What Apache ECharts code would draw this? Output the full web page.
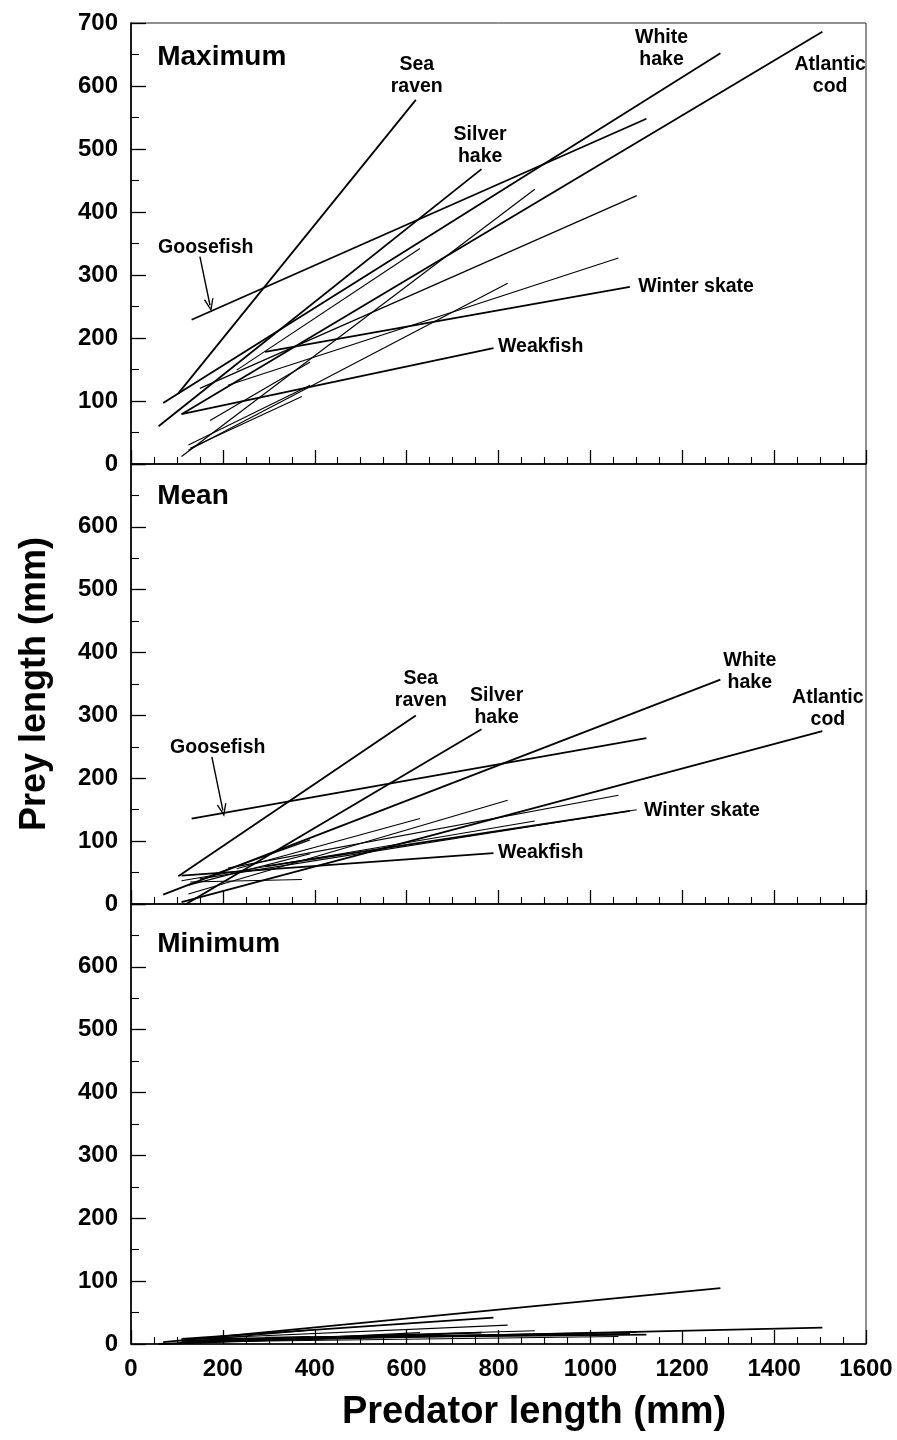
<!DOCTYPE html>
<html>
<head>
<meta charset="utf-8">
<script src="https://cdn.jsdelivr.net/npm/echarts@6/dist/echarts.min.js"></script>
<style>
  html, body { margin: 0; padding: 0; background: #fff; }
  #chart { width: 897px; height: 1440px; }
</style>
</head>
<body>
<div id="chart"></div>
<script>
// ---------------- DATA ----------------
const panelNames = ['Maximum', 'Mean', 'Minimum'];
const species = ['Sea raven', 'Goosefish', 'Silver hake', 'White hake', 'Atlantic cod', 'Weakfish', 'Winter skate',
                 'Species 8', 'Species 9', 'Species 10', 'Species 11', 'Species 12', 'Species 13', 'Species 14', 'Species 15'];
const labelled = [true, true, true, true, true, true, true, false, false, false, false, false, false, false, false];
// predator length range of each regression line (mm)
const predStart = [103, 132, 60, 70, 110, 110, 292, 110, 150, 211, 125, 129, 172, 125, 230];
const predEnd   = [620, 1122, 763, 1283, 1505, 789, 1086, 879, 1101, 1061, 820, 372, 390, 390, 629];
// prey length at the ends of each line (mm)
const maxStart  = [112, 229, 60, 97, 79, 79, 178, 12, 120, 125, 22, 25, 69, 30, 149];
const maxEnd    = [578, 548, 468, 652, 686, 184, 281, 436, 426, 327, 287, 107, 162, 125, 342];
const meanStart = [44, 136, -26, 15, 3, 45, 60, 37, 40, 57, 16, 35, 45, 30, 56];
const meanEnd   = [300, 264, 278, 357, 275, 81, 148, 132, 150, 173, 165, 39, 102, 80, 136];
const minStart  = [2, 8, 0, 3, 3, 8, 10, 5, 6, 4, 8, 3, 8, 5, 4];
const minEnd    = [15, 15, 18, 89, 26, 42, 16, 21, 19, 12, 30, 8, 22, 12, 18];
// axis ticks
const xTicks = [0, 200, 400, 600, 800, 1000, 1200, 1400, 1600];
const yTicks = [0, 100, 200, 300, 400, 500, 600, 700];

// annotation anchors (data coordinates) per panel: [text, x, y, align, fontSize]
const maxLabels = [
  ['Maximum', 57, 646, 'left', 28],
  ['Sea\nraven', 622, 616, 'center', 19.5],
  ['Silver\nhake', 760, 506, 'center', 19.5],
  ['White\nhake', 1155, 660, 'center', 19.5],
  ['Atlantic\ncod', 1522, 617, 'center', 19.5],
  ['Goosefish', 59, 344, 'left', 19.5],
  ['Winter skate', 1104, 281, 'left', 19.5],
  ['Weakfish', 799, 186, 'left', 19.5]
];
const meanLabels = [
  ['Mean', 57, 649, 'left', 28],
  ['Sea\nraven', 631, 341, 'center', 19.5],
  ['Silver\nhake', 796, 314, 'center', 19.5],
  ['White\nhake', 1347, 370, 'center', 19.5],
  ['Atlantic\ncod', 1517, 311, 'center', 19.5],
  ['Goosefish', 85, 249, 'left', 19.5],
  ['Winter skate', 1117, 148, 'left', 19.5],
  ['Weakfish', 799, 81, 'left', 19.5]
];
const minLabels = [
  ['Minimum', 57, 636, 'left', 28]
];
// goosefish arrows [x0, y0, x1, y1]
const maxArrow = [150, 329, 172, 252];
const meanArrow = [176, 234, 200, 149];

// ---------------- CHART ----------------
const FONT = '"Liberation Sans", Arial, Helvetica, sans-serif';
const chart = echarts.init(document.getElementById('chart'), null, { renderer: 'canvas' });

const gridTops = [23, 464, 904];
const gridH = [441, 440, 440];
const grids = gridTops.map((t, i) => ({
  left: 131, width: 735, top: t, height: gridH[i],
  show: true, borderColor: '#222', borderWidth: 1, backgroundColor: 'transparent'
}));

const xAxes = gridTops.map((t, i) => ({
  type: 'value', gridIndex: i, min: xTicks[0], max: xTicks[xTicks.length - 1], interval: 200,
  axisLine: { show: true, onZero: false, lineStyle: { color: '#000', width: 1.6 } },
  axisTick: { show: true, inside: true, length: 14, lineStyle: { color: '#000', width: 1.3 } },
  minorTick: { show: true, splitNumber: 4, length: 7, lineStyle: { color: '#000', width: 1.1 } },
  splitLine: { show: false },
  axisLabel: {
    show: i === 2, margin: 13, fontSize: 24, fontWeight: 'bold', color: '#000', fontFamily: FONT,
    formatter: v => String(v)
  },
  name: i === 2 ? 'Predator length (mm)' : '',
  nameLocation: 'middle', nameGap: 50,
  nameTextStyle: { fontSize: 38, fontWeight: 'bold', color: '#000', fontFamily: FONT, padding: [0, 0, 0, 71] }
}));

const yAxes = gridTops.map((t, i) => ({
  type: 'value', gridIndex: i, min: yTicks[0], max: yTicks[yTicks.length - 1], interval: 100,
  axisLine: { show: true, onZero: false, lineStyle: { color: '#000', width: 1.6 } },
  axisTick: { show: true, inside: true, length: 15, lineStyle: { color: '#000', width: 1.3 } },
  minorTick: { show: true, splitNumber: 2, length: 8, lineStyle: { color: '#000', width: 1.1 } },
  splitLine: { show: false },
  axisLabel: {
    margin: 13, fontSize: 24, fontWeight: 'bold', color: '#000', fontFamily: FONT,
    formatter: v => (i > 0 && v === 700) ? '' : String(v)
  },
  name: i === 1 ? 'Prey length (mm)' : '',
  nameLocation: 'middle', nameGap: 78, nameRotate: 90,
  nameTextStyle: { fontSize: 36, fontWeight: 'bold', color: '#000', fontFamily: FONT }
}));

const series = [];
const panelStarts = [maxStart, meanStart, minStart];
const panelEnds = [maxEnd, meanEnd, minEnd];
for (let p = 0; p < 3; p++) {
  for (let s = 0; s < species.length; s++) {
    series.push({
      name: panelNames[p] + ' - ' + species[s],
      type: 'line', xAxisIndex: p, yAxisIndex: p,
      data: [[predStart[s], panelStarts[p][s]], [predEnd[s], panelEnds[p][s]]],
      showSymbol: false, symbol: 'none', clip: true, silent: true,
      lineStyle: { color: '#000', width: labelled[s] ? 1.8 : 1.15 }
    });
  }
}

const arrowPath = 'path://M0,12 L5,0 L10,12 L8.6,12 L5,3.5 L1.4,12 Z';
const labelSets = [maxLabels, meanLabels, minLabels];
const arrows = [maxArrow, meanArrow, null];
for (let p = 0; p < 3; p++) {
  const s = {
    type: 'scatter', xAxisIndex: p, yAxisIndex: p, symbolSize: 0, silent: true, clip: false,
    itemStyle: { color: '#000' },
    label: { show: true, color: '#000' },
    data: labelSets[p].map(l => ({
      value: [l[1], l[2]],
      label: {
        show: true, formatter: l[0],
        position: l[3] === 'left' ? 'right' : 'inside', distance: 0,
        align: l[3], verticalAlign: 'middle',
        fontSize: l[4], fontWeight: 'bold', color: '#000', fontFamily: FONT,
        textBorderWidth: 0, opacity: 1,
        lineHeight: l[4] > 20 ? 32 : 22
      }
    }))
  };
  if (arrows[p]) {
    const a = arrows[p];
    s.markLine = {
      silent: true, animation: false,
      symbol: ['none', arrowPath], symbolSize: [10, 13],
      label: { show: false },
      lineStyle: { color: '#000', width: 1.4, type: 'solid' },
      data: [[{ coord: [a[0], a[1]] }, { coord: [a[2], a[3]] }]]
    };
  }
  series.push(s);
}

chart.setOption({
  animation: false,
  backgroundColor: '#fff',
  grid: grids,
  xAxis: xAxes,
  yAxis: yAxes,
  series: series
});
</script>
</body>
</html>
